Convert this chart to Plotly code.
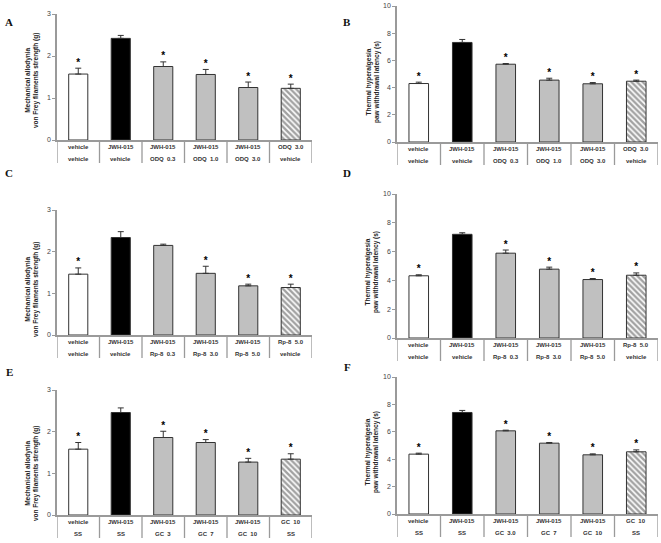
import plotly.graph_objects as go

W, H = 661, 543

# ---------------- data ----------------
row1_A = ["vehicle", "JWH-015", "JWH-015", "JWH-015", "JWH-015", "ODQ  3.0"]
row2_A = ["vehicle", "vehicle", "ODQ  0.3", "ODQ  1.0", "ODQ  3.0", "vehicle"]
row1_C = ["vehicle", "JWH-015", "JWH-015", "JWH-015", "JWH-015", "Rp-8  5.0"]
row2_C = ["vehicle", "vehicle", "Rp-8  0.3", "Rp-8  3.0", "Rp-8  5.0", "vehicle"]
row1_E = ["vehicle", "JWH-015", "JWH-015", "JWH-015", "JWH-015", "GC  10"]
row2_E = ["SS", "SS", "GC  3", "GC  7", "GC  10", "SS"]
row2_F = ["SS", "SS", "GC  3.0", "GC  7", "GC  10", "SS"]

mean_A = [1.57, 2.42, 1.75, 1.56, 1.25, 1.23]
sem_A = [0.14, 0.07, 0.11, 0.12, 0.13, 0.10]
mean_B = [4.30, 7.32, 5.72, 4.55, 4.28, 4.47]
sem_B = [0.10, 0.22, 0.05, 0.14, 0.09, 0.08]
mean_C = [1.46, 2.34, 2.15, 1.48, 1.18, 1.14]
sem_C = [0.15, 0.14, 0.03, 0.17, 0.04, 0.08]
mean_D = [4.32, 7.20, 5.89, 4.78, 4.06, 4.36]
sem_D = [0.07, 0.11, 0.22, 0.14, 0.07, 0.16]
mean_E = [1.58, 2.46, 1.86, 1.74, 1.27, 1.34]
sem_E = [0.16, 0.11, 0.15, 0.07, 0.09, 0.13]
mean_F = [4.37, 7.41, 6.07, 5.17, 4.32, 4.54]
sem_F = [0.07, 0.15, 0.05, 0.05, 0.07, 0.14]
signif_A = [True, False, True, True, True, True]
signif_B = [True, False, True, True, True, True]
signif_C = [True, False, False, True, True, True]
signif_D = [True, False, True, True, True, True]
signif_E = [True, False, True, True, True, True]
signif_F = [True, False, True, True, True, True]

bar_colors = ["white", "black", "#c0c0c0", "#c0c0c0", "#c0c0c0", "white"]
bar_patterns = ["", "", "", "", "", "\\"]
ytitle_mech = "<b>Mechanical allodynia<br>von Frey filaments strength (g)</b>"
ytitle_therm = "<b>Thermal hyperalgesia<br>paw withdrawal latency (s)</b>"

# panel geometry in pixels
panels = [
    ("A", mean_A, sem_A, signif_A, row1_A, row2_A, 57, 312, 14, 140, 3, 1, ytitle_mech, 32, 81, 9, 22),
    ("B", mean_B, sem_B, signif_B, row1_A, row2_A, 397, 658, 6, 142, 10, 2, ytitle_therm, 373, 82, 347, 22),
    ("C", mean_C, sem_C, signif_C, row1_C, row2_C, 57, 312, 210, 335, 3, 1, ytitle_mech, 32, 290, 9, 173),
    ("D", mean_D, sem_D, signif_D, row1_C, row2_C, 397, 658, 194, 338, 10, 2, ytitle_therm, 372, 272, 347, 173),
    ("E", mean_E, sem_E, signif_E, row1_E, row2_E, 57, 312, 390, 515, 3, 1, ytitle_mech, 32, 474, 9, 372),
    ("F", mean_F, sem_F, signif_F, row1_E, row2_F, 397, 658, 377, 514, 10, 2, ytitle_therm, 372, 452, 347, 367),
]

fig = go.Figure()
layout = dict(
    width=W, height=H, margin=dict(l=0, r=0, t=0, b=0, autoexpand=False),
    paper_bgcolor="white", plot_bgcolor="white", showlegend=False,
    font=dict(family="Liberation Sans, Arial", color="#222"),
    annotations=[], shapes=[],
)

def py(p):
    return (H - p) / H

axis_col = "#9a9a9a"
for i, (letter, means, sems, sig, r1, r2, x0, x1, yt, yb, ymax, dt, ytitle, tx, ty, lx, ly) in enumerate(panels):
    n = "" if i == 0 else str(i + 1)
    xa, ya = "x" + n, "y" + n
    xs = list(range(len(means)))
    fig.add_trace(go.Bar(
        x=xs, y=means, xaxis=xa, yaxis=ya, width=0.45,
        marker=dict(color=bar_colors, line=dict(color="#333", width=1),
                    pattern=dict(shape=bar_patterns, fgcolor="#111",
                                 bgcolor="#e8e8e8", size=4, solidity=0.6)),
        error_y=dict(type="data", symmetric=False, array=sems, arrayminus=[0] * len(sems),
                     color="#333", thickness=1, width=3),
    ))
    sx = [x for x, s in zip(xs, sig) if s]
    sy = [m + e for m, e, s in zip(means, sems, sig) if s]
    fig.add_trace(go.Scatter(
        x=sx, y=sy, xaxis=xa, yaxis=ya, mode="text", text=["<b>*</b>"] * len(sx),
        textposition="top center", textfont=dict(size=10, color="#000"),
        cliponaxis=False,
    ))
    layout["xaxis" + n] = dict(
        domain=[x0 / W, x1 / W], anchor=ya, range=[-0.5, 5.5], automargin=False,
        showline=True, linecolor=axis_col, linewidth=1.5, showticklabels=False,
        ticks="", showgrid=False, zeroline=False, fixedrange=True,
    )
    layout["yaxis" + n] = dict(
        domain=[py(yb), py(yt)], anchor=xa, range=[0, ymax], dtick=dt, automargin=False,
        showline=True, linecolor=axis_col, linewidth=1.5, ticks="outside",
        ticklen=3, tickcolor=axis_col, showgrid=False, zeroline=False,
        tickfont=dict(size=7, color="#444"), fixedrange=True,
    )
    # table below the axis
    for k in range(len(means) + 1):
        layout["shapes"].append(dict(
            type="line", xref=xa, yref="paper", x0=k - 0.5, x1=k - 0.5,
            y0=py(yb), y1=py(yb + 23), line=dict(color=axis_col, width=1.3)))
    for k in range(len(means)):
        layout["annotations"].append(dict(
            xref=xa, yref="paper", x=k, y=py(yb + 7), text="<b>" + r1[k] + "</b>",
            showarrow=False, font=dict(size=6, color="#333"), yanchor="middle"))
        layout["annotations"].append(dict(
            xref=xa, yref="paper", x=k, y=py(yb + 19), text="<b>" + r2[k] + "</b>",
            showarrow=False, font=dict(size=6, color="#333"), yanchor="middle"))
    layout["annotations"].append(dict(
        xref="paper", yref="paper", x=tx / W, y=py(ty), text=ytitle, textangle=-90,
        showarrow=False, font=dict(size=6.5, color="#222"), xanchor="center", yanchor="middle"))
    layout["annotations"].append(dict(
        xref="paper", yref="paper", x=lx / W, y=py(ly), text="<b>" + letter + "</b>",
        showarrow=False, font=dict(size=11, color="#111", family="Liberation Serif, Times New Roman"),
        xanchor="center", yanchor="middle"))

fig.update_layout(**layout)
fig.write_html("out.html", config={"displayModeBar": False},
               post_script="document.body.style.margin='0';document.body.style.overflow='hidden';")
